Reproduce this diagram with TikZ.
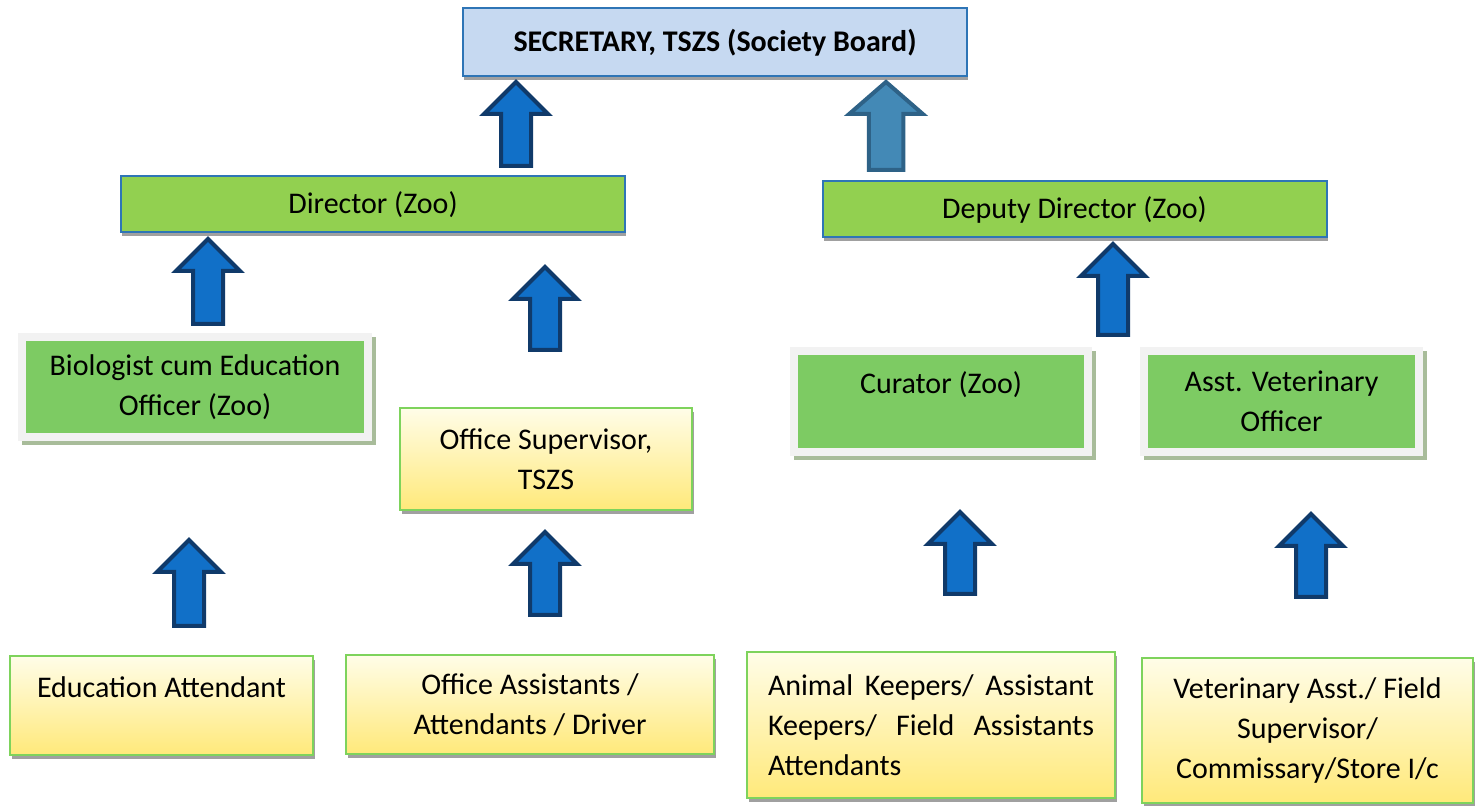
\documentclass[tikz,border=0pt]{standalone}
\usepackage{fontspec}
\setmainfont{Carlito}
\usepackage{tikz}
\usetikzlibrary{shadows}

\definecolor{secfill}{HTML}{C6D9F1}
\definecolor{secline}{HTML}{2E75B6}
\definecolor{dirfill}{HTML}{92D050}
\definecolor{boxgreen}{HTML}{7DCB63}
\definecolor{framegray}{HTML}{F2F2F2}
\definecolor{frameshadow}{HTML}{A8BC9A}
\definecolor{shadowgray}{HTML}{A0A0A0}
\definecolor{yeltop}{HTML}{FFFDE8}
\definecolor{yelbot}{HTML}{FFE97A}
\definecolor{yelline}{HTML}{7ED35C}
\definecolor{arrfill}{HTML}{1170C8}
\definecolor{arrline}{HTML}{103A6A}
\definecolor{tealfill}{HTML}{4389B6}
\definecolor{tealline}{HTML}{2E6287}

\tikzset{
	pics/uparr/.style={code={
		\draw[pic actions] (0,0) -- (32,32) -- (15,32) -- (15,#1) -- (-15,#1) -- (-15,32) -- (-32,32) -- cycle;
	}}
}

\begin{document}
\begin{tikzpicture}[x=0.5pt,y=-0.5pt,font=\fontsize{15}{20}\selectfont,
	bluebox/.style={rectangle,draw=secline,line width=1pt,align=center,
		drop shadow={shadow xshift=0.5pt,shadow yshift=-2pt,fill=shadowgray,opacity=1}},
	framebox/.style={rectangle,fill=boxgreen,draw=framegray,line width=4pt,align=center,
		drop shadow={shadow xshift=2pt,shadow yshift=-2pt,fill=frameshadow,draw=frameshadow,line width=4pt,opacity=1}},
	yelbox/.style={rectangle,top color=yeltop,bottom color=yelbot,draw=yelline,line width=1pt,align=center,
		drop shadow={shadow xshift=1pt,shadow yshift=-2pt,fill=shadowgray,opacity=1}},
	arrblue/.style={fill=arrfill,draw=arrline,line width=2pt},
	arrteal/.style={fill=tealfill,draw=tealline,line width=2pt}]

	\useasboundingbox (0,0) rectangle (1479,806);

	% top level
	\node[bluebox,fill=secfill,font=\fontsize{15}{20}\selectfont\bfseries,minimum width=252pt,minimum height=34pt] (sec) at (715,42.5) {SECRETARY, TSZS (Society Board)};
	\node[bluebox,fill=dirfill,minimum width=252pt,minimum height=28pt] (dir) at (373,204.5) {Director (Zoo)};
	\node[bluebox,fill=dirfill,minimum width=252pt,minimum height=28pt] (dep) at (1074.5,209.5) {Deputy Director (Zoo)};

	% officers
	\begin{scope}[every node/.style={framebox,minimum height=50.5pt}]
		\node[minimum width=173pt,minimum height=50pt] (bio) at (195,387) {Biologist cum Education\\Officer (Zoo)};
		\node[minimum width=147pt,text depth=19pt] (cur) at (941,401.5) {Curator (Zoo)};
		\node[minimum width=137.5pt] (avo) at (1281.5,401.5) {Asst. Veterinary\\Officer};
	\end{scope}

	% staff
	\begin{scope}[every node/.style={yelbox}]
		\node[minimum width=146pt,minimum height=51pt] (sup) at (546,459) {Office Supervisor,\\TSZS};
		\node[minimum width=151.5pt,minimum height=49.5pt,text depth=18pt] (edu) at (161.5,705.5) {Education Attendant};
		\node[minimum width=184pt,minimum height=49.5pt] (oas) at (530,704.5) {Office Assistants /\\Attendants / Driver};
		\node[minimum width=184pt,minimum height=73pt,align=justify,text width=163pt] (ani) at (931,725) {\hyphenpenalty=10000 Animal Keepers/ Assistant\linebreak Keepers/ Field Assistants\linebreak Attendants};
		\node[minimum width=165.5pt,minimum height=72.5pt] (vas) at (1307.5,730.5) {Veterinary Asst./ Field\\Supervisor/\\Commissary/Store I/c};
	\end{scope}

	% arrows
	\pic[arrblue] (a1) at (516,82) {uparr=84};
	\pic[arrteal,xscale=1.15] (a2) at (886,82) {uparr=88};
	\pic[arrblue] (a3) at (208,239) {uparr=85};
	\pic[arrblue] (a4) at (545,267) {uparr=83};
	\pic[arrblue] (a5) at (1113,244) {uparr=91};
	\pic[arrblue] (a6) at (189,540) {uparr=86};
	\pic[arrblue] (a7) at (545,532) {uparr=83};
	\pic[arrblue] (a8) at (960,512) {uparr=82};
	\pic[arrblue] (a9) at (1311,514) {uparr=83};
\end{tikzpicture}
\end{document}
